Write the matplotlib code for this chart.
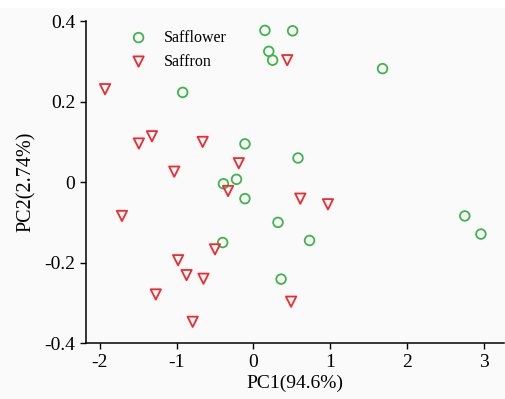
import numpy as np
import matplotlib.pyplot as plt
from matplotlib.patches import Rectangle

plt.rcParams['font.family'] = 'Liberation Serif'
plt.rcParams['axes.unicode_minus'] = False

safflower_x = [0.15, 0.51, 0.20, 0.25, -0.92, -0.11, 0.58, -0.39, -0.22, -0.11,
               -0.40, 0.32, 0.36, 0.73, 2.75, 2.96, 1.68]
safflower_y = [0.377, 0.376, 0.325, 0.303, 0.223, 0.095, 0.060, -0.004, 0.007, -0.041,
               -0.150, -0.100, -0.241, -0.145, -0.084, -0.129, 0.282]

saffron_x = [-1.93, -1.49, -1.32, -0.66, -1.03, -0.19, -0.33, 0.44, -1.71, -0.98,
             -0.87, -0.65, -0.50, -1.27, -0.79, 0.49, 0.61, 0.97]
saffron_y = [0.231, 0.096, 0.114, 0.100, 0.026, 0.047, -0.022, 0.303, -0.084, -0.194,
             -0.231, -0.240, -0.167, -0.279, -0.347, -0.297, -0.041, -0.055]

xticks = [-2, -1, 0, 1, 2, 3]
yticks = [-0.4, -0.2, 0, 0.2, 0.4]
ytick_labels = ["-0.4", "-0.2", "0", "0.2", "0.4"]

fig = plt.figure(figsize=(5.05, 3.99), dpi=100, facecolor='#fafafa')
ax = fig.add_axes([0.170, 0.140, 0.828, 0.807])
ax.set_facecolor('#fafafa')
fig.add_artist(Rectangle((0, 0.982), 1, 0.018, color='white', transform=fig.transFigure))

ax.scatter(safflower_x, safflower_y, s=48, marker='o', facecolors='none',
           edgecolors='#3db54a', linewidths=1.3, label='Safflower', zorder=3)
ax.scatter(saffron_x, saffron_y, s=55, marker='v', facecolors='none',
           edgecolors='#ee2a2e', linewidths=1.3, label='Saffron', zorder=3)

ax.set_xlim(-2.18, 3.26)
ax.set_ylim(-0.4, 0.4)
ax.set_xticks(xticks)
ax.set_xticklabels([str(t) for t in xticks])
ax.set_yticks(yticks)
ax.set_yticklabels(ytick_labels)
ax.tick_params(direction='out', length=4, width=1, labelsize=14, color='black')

for s in ['top', 'right']:
    ax.spines[s].set_visible(False)
for s in ['left', 'bottom']:
    ax.spines[s].set_linewidth(1.1)

ax.set_xlabel('PC1(94.6%)', fontsize=14, labelpad=3)
ax.set_ylabel('PC2(2.74%)', fontsize=14.5, labelpad=6)

ax.legend(loc='upper left', bbox_to_anchor=(0.065, 1.003), frameon=False,
          fontsize=11.5, handletextpad=0.6, labelspacing=0.5, borderaxespad=0.2)

fig.savefig('out.png', dpi=100, facecolor=fig.get_facecolor())
